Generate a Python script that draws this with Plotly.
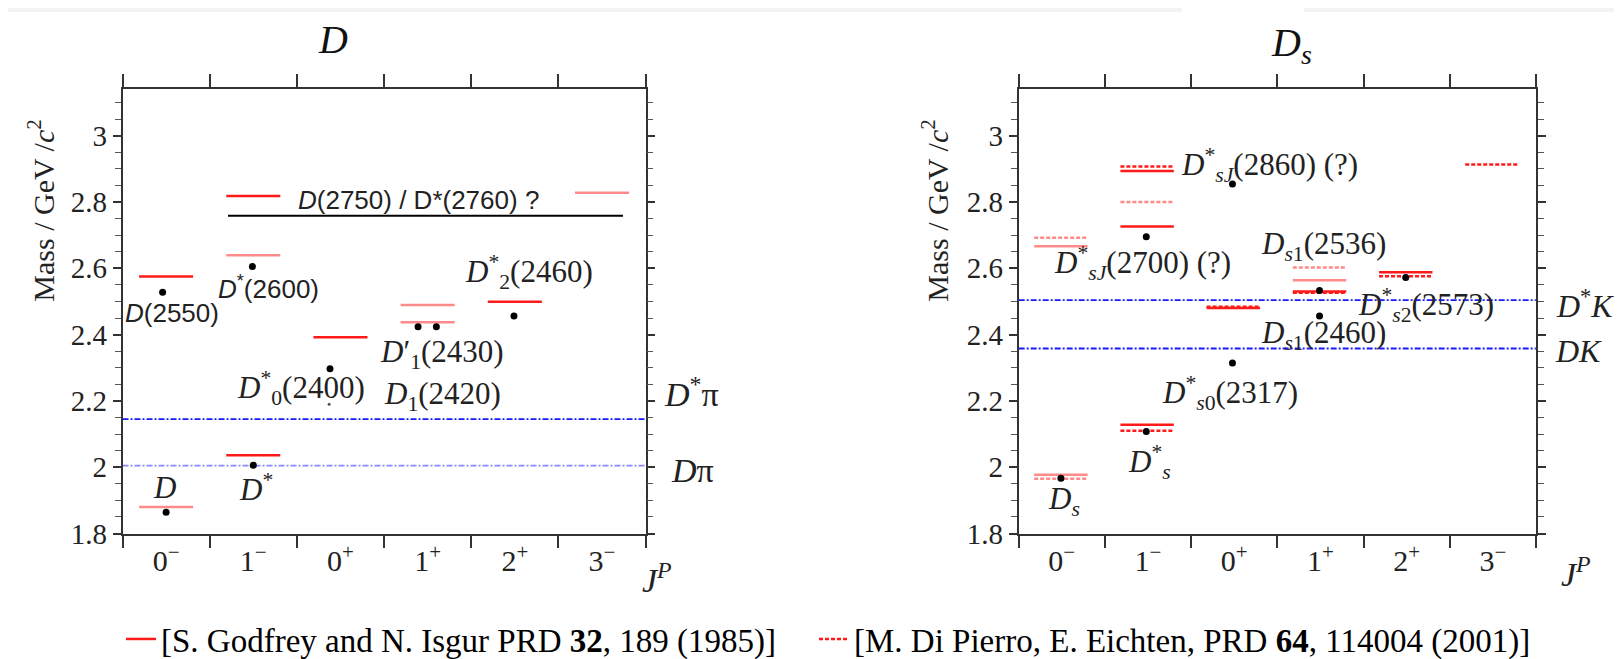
import plotly.graph_objects as go

# ---------------- data ----------------
categories = ["0<sup>−</sup>", "1<sup>−</sup>", "0<sup>+</sup>", "1<sup>+</sup>", "2<sup>+</sup>", "3<sup>−</sup>"]

# D panel: Godfrey-Isgur levels (category index, mass GeV)
d_gi_strong_cat = [0, 1, 1, 2, 4]
d_gi_strong_mass = [2.575, 2.036, 2.818, 2.392, 2.499]
d_gi_light_cat = [0, 1, 3, 3, 5]
d_gi_light_mass = [1.880, 2.639, 2.489, 2.437, 2.828]
# D panel: experimental states
d_exp_x = [0.50, 0.46, 1.50, 1.49, 2.38, 3.39, 3.60, 4.49]
d_exp_mass = [1.864, 2.528, 2.006, 2.605, 2.297, 2.424, 2.424, 2.456]
d_speck_x = [2.37]
d_speck_mass = [2.190]
# D panel: broad structure D(2750)/D*(2760)
d_broad_x = [1.21, 5.74]
d_broad_mass = 2.758
# D panel thresholds
d_thr_names = ["<i>D</i>π", "<i>D</i><sup>*</sup>π"]
d_thr_mass = [2.005, 2.145]

# Ds panel: Godfrey-Isgur (solid)
ds_gi_strong_cat = [1, 1, 1, 2, 3, 4]
ds_gi_strong_mass = [2.128, 2.726, 2.893, 2.480, 2.530, 2.588]
ds_gi_light_cat = [0, 0, 3]
ds_gi_light_mass = [1.977, 2.666, 2.564]
# Ds panel: Di Pierro-Eichten (dashed)
ds_de_strong_cat = [1, 1, 2, 3, 4, 5]
ds_de_strong_mass = [2.110, 2.907, 2.484, 2.526, 2.576, 2.913]
ds_de_light_cat = [0, 0, 1, 3]
ds_de_light_mass = [1.965, 2.692, 2.800, 2.602]
# Ds panel: experimental states
ds_exp_x = [0.49, 1.48, 1.48, 2.48, 2.48, 3.49, 3.49, 4.49]
ds_exp_mass = [1.967, 2.108, 2.695, 2.854, 2.314, 2.533, 2.456, 2.572]
# Ds thresholds
ds_thr_names = ["<i>DK</i>", "<i>D</i><sup>*</sup><i>K</i>"]
ds_thr_mass = [2.358, 2.504]

# labels (text, x in category units, mass)
d_labels = [
    ("<i>D</i>(2550)", 0.57, 2.464, "sans"),
    ("<i>D</i><sup>*</sup>(2600)", 1.68, 2.543, "sans"),
    ("<i>D</i><sup>*</sup><sub>2</sub>(2460)", 4.66, 2.589, "serif"),
    ("<i>D</i>′<sub>1</sub>(2430)", 3.67, 2.341, "serif"),
    ("<i>D</i><sub>1</sub>(2420)", 3.67, 2.215, "serif"),
    ("<i>D</i><sup>*</sup><sub>0</sub>(2400)", 2.05, 2.239, "serif"),
    ("<i>D</i>", 0.48, 1.940, "serif"),
    ("<i>D</i><sup>*</sup>", 1.53, 1.940, "serif"),
    ("<i>D</i>(2750) / D*(2760) ?", 3.40, 2.806, "sans"),
]
ds_labels = [
    ("<i>D</i><sup>*</sup><sub><i>sJ</i></sub>(2860) (?)", 2.91, 2.911),
    ("<i>D</i><sup>*</sup><sub><i>sJ</i></sub>(2700) (?)", 1.44, 2.616),
    ("<i>D</i><sub><i>s</i>1</sub>(2536)", 3.54, 2.668),
    ("<i>D</i><sup>*</sup><sub><i>s</i>2</sub>(2573)", 4.72, 2.490),
    ("<i>D</i><sub><i>s</i>1</sub>(2460)", 3.54, 2.399),
    ("<i>D</i><sup>*</sup><sub><i>s</i>0</sub>(2317)", 2.45, 2.224),
    ("<i>D</i><sup>*</sup><sub><i>s</i></sub>", 1.52, 2.016),
    ("<i>D</i><sub><i>s</i></sub>", 0.53, 1.899),
]

gi_name = "[S. Godfrey and N. Isgur PRD <b>32</b>, 189 (1985)]"
de_name = "[M. Di Pierro, E. Eichten, PRD <b>64</b>, 114004 (2001)]"

# ---------------- styling ----------------
SERIF = "Liberation Serif, Times New Roman, serif"
SANS = "Liberation Sans Narrow, Liberation Sans, Arial, sans-serif"
RED = "#ff1a1a"
LIGHT_RED = "#ff8a8a"
BLUE = "#1a1aff"
LIGHT_BLUE = "#8a8aff"
TXT = "#222"


def segments(cats, masses, center, half):
    xs, ys = [], []
    for c, m in zip(cats, masses):
        xs += [c + center - half, c + center + half, None]
        ys += [m, m, None]
    return xs, ys


fig = go.Figure()


def add_levels(cats, masses, color, dash, xa, ya, name, show, center=0.5, half=0.31, width=2.5,
               legend="legend"):
    xs, ys = segments(cats, masses, center, half)
    fig.add_trace(go.Scatter(x=xs, y=ys, mode="lines", xaxis=xa, yaxis=ya,
                             line=dict(color=color, width=width, dash=dash),
                             name=name, showlegend=show, legend=legend, hoverinfo="skip"))


# thresholds
for i, m in enumerate(d_thr_mass):
    fig.add_trace(go.Scatter(x=[0, 6], y=[m, m], mode="lines", xaxis="x", yaxis="y",
                             line=dict(color=LIGHT_BLUE if i == 0 else BLUE, width=1.8,
                                       dash="6px,2px,2px,2px"), showlegend=False, hoverinfo="skip"))
for m in ds_thr_mass:
    fig.add_trace(go.Scatter(x=[0, 6], y=[m, m], mode="lines", xaxis="x2", yaxis="y2",
                             line=dict(color=BLUE, width=1.8, dash="6px,2px,2px,2px"),
                             showlegend=False, hoverinfo="skip"))

# D levels
add_levels(d_gi_strong_cat, d_gi_strong_mass, RED, "solid", "x", "y", gi_name, True)
add_levels(d_gi_light_cat, d_gi_light_mass, LIGHT_RED, "solid", "x", "y", gi_name, False)
fig.add_trace(go.Scatter(x=d_broad_x, y=[d_broad_mass] * 2, mode="lines", xaxis="x", yaxis="y",
                         line=dict(color="black", width=2), showlegend=False, hoverinfo="skip"))

# Ds levels
add_levels(ds_gi_strong_cat, ds_gi_strong_mass, RED, "solid", "x2", "y2", gi_name, False, 0.49, 0.31)
add_levels(ds_gi_light_cat, ds_gi_light_mass, LIGHT_RED, "solid", "x2", "y2", gi_name, False, 0.49, 0.31)
add_levels(ds_de_strong_cat, ds_de_strong_mass, RED, "4px,2px", "x2", "y2", de_name, True, 0.49, 0.31,
           legend="legend2")
add_levels(ds_de_light_cat, ds_de_light_mass, LIGHT_RED, "4px,2px", "x2", "y2", de_name, False, 0.49, 0.31)

# experimental points
fig.add_trace(go.Scatter(x=d_exp_x, y=d_exp_mass, mode="markers", xaxis="x", yaxis="y",
                         marker=dict(color="black", size=7), showlegend=False))
fig.add_trace(go.Scatter(x=d_speck_x, y=d_speck_mass, mode="markers", xaxis="x", yaxis="y",
                         marker=dict(color="#555", size=3), showlegend=False))
fig.add_trace(go.Scatter(x=ds_exp_x, y=ds_exp_mass, mode="markers", xaxis="x2", yaxis="y2",
                         marker=dict(color="black", size=7), showlegend=False))

# ---------------- axes ----------------
ytickvals = [round(1.8 + 0.1 * i, 1) for i in range(14)]
yticktext = [("%g" % v) if i % 2 == 0 else "" for i, v in enumerate(ytickvals)]
yminor = [round(1.8 + 0.05 * i, 2) for i in range(27)]

common_x = dict(range=[0, 6], showline=True, linecolor="#333", linewidth=1.5, mirror="ticks",
                tickvals=[i + 0.5 for i in range(6)], ticktext=categories, ticks="outside",
                ticklen=0, tickcolor="#333", tickwidth=1.5,
                tickfont=dict(family=SERIF, size=30, color=TXT),
                minor=dict(tickvals=list(range(7)), ticks="outside", ticklen=13,
                           tickcolor="#333", tickwidth=1.5),
                showgrid=False, zeroline=False, fixedrange=True)
common_y = dict(range=[1.8, 3.142], showline=True, linecolor="#333", linewidth=1.5, mirror="ticks",
                tickvals=ytickvals, ticktext=yticktext, ticks="outside", ticklen=8,
                tickcolor="#333", tickwidth=1.5,
                tickfont=dict(family=SERIF, size=29, color=TXT),
                minor=dict(tickvals=yminor, ticks="outside", ticklen=6, tickcolor="#555", tickwidth=1),
                showgrid=False, zeroline=False, fixedrange=True)

legend_common = dict(orientation="h", y=0.012, xanchor="left", yanchor="middle",
                     font=dict(family=SERIF, size=33, color="black"), bgcolor="rgba(0,0,0,0)",
                     itemwidth=30)

fig.update_layout(
    width=1622, height=659, autosize=False,
    margin=dict(l=0, r=0, t=0, b=0),
    paper_bgcolor="white", plot_bgcolor="white",
    xaxis=dict(domain=[0.0706, 0.3931], anchor="y", **common_x),
    yaxis=dict(domain=[0.1775, 0.874], anchor="x", **common_y),
    xaxis2=dict(domain=[0.6231, 0.9420], anchor="y2", **common_x),
    yaxis2=dict(domain=[0.1775, 0.874], anchor="x2", **common_y),
    legend=dict(x=113 / 1622, **legend_common),
    legend2=dict(x=806 / 1622, **legend_common),
    showlegend=True,
)


def label(text, x, y, xref, yref, size, family=SERIF, color=TXT, xanchor="center", **kw):
    return dict(text=text, x=x, y=y, xref=xref, yref=yref, showarrow=False,
                xanchor=xanchor, yanchor="middle",
                font=dict(family=family, size=size, color=color), **kw)


ann = []
for text, x, y, fam in d_labels:
    ann.append(label(text, x, y, "x", "y", 26 if fam == "sans" else 31,
                     family=SANS if fam == "sans" else SERIF))
for text, x, y in ds_labels:
    ann.append(label(text, x, y, "x2", "y2", 31))
# threshold labels (outside the plotting area -> paper x)
ann.append(label(d_thr_names[0], 708 / 1622, 1.99, "paper", "y", 34, xanchor="right"))
ann.append(label(d_thr_names[1], 713 / 1622, 2.227, "paper", "y", 34, xanchor="right"))
ann.append(label(ds_thr_names[0], 1596 / 1622, 2.35, "paper", "y2", 32, xanchor="right"))
ann.append(label(ds_thr_names[1], 1608 / 1622, 2.493, "paper", "y2", 32, xanchor="right"))
# J^P
ann.append(label("<i>J</i><sup><i>P</i></sup>", 649 / 1622, 1 - 588 / 659, "paper", "paper", 34))
ann.append(label("<i>J</i><sup><i>P</i></sup>", 1568 / 1622, 1 - 582 / 659, "paper", "paper", 34))
# titles
ann.append(label("<i>D</i>", 325 / 1622, 1 - 33 / 659, "paper", "paper", 40, color="#111"))
ann.append(label("<i>D</i><sub><i>s</i></sub>", 1283 / 1622, 1 - 38 / 659, "paper", "paper", 40,
                 color="#111"))
# y axis titles
for xp in (33, 927):
    ann.append(label("Mass / GeV /<i>c</i><sup>2</sup>", xp / 1622, 1 - 209 / 659, "paper", "paper",
                     30, textangle=-90))
fig.update_layout(annotations=ann)

# faint grey strip at the very top of the screenshot
fig.add_shape(type="rect", xref="paper", yref="paper", x0=0, x1=1174 / 1622, y0=1 - 4 / 659, y1=1,
              line=dict(width=0), fillcolor="#f3f3f3", layer="below")
fig.add_shape(type="rect", xref="paper", yref="paper", x0=1296 / 1622, x1=1, y0=1 - 4 / 659, y1=1,
              line=dict(width=0), fillcolor="#f3f3f3", layer="below")

fig.write_html("out.html")
